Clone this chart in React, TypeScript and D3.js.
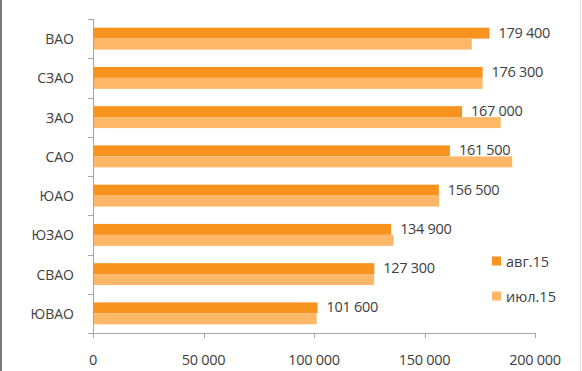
import React, { useEffect, useRef } from 'react';
import * as d3 from 'd3';

const CATEGORIES = ['ВАО', 'СЗАО', 'ЗАО', 'САО', 'ЮАО', 'ЮЗАО', 'СВАО', 'ЮВАО'];
const AUG_VALUES = [179400, 176300, 167000, 161500, 156500, 134900, 127300, 101600];
const JUL_VALUES = [171400, 176300, 184500, 189700, 156600, 136000, 127200, 101200];
const SERIES_NAMES = ['авг.15', 'июл.15'];
const X_TICKS = [0, 50000, 100000, 150000, 200000];

const COLORS = ['#F7931E', '#FCB868'];
const FONT = '"Open Sans", sans-serif';

const fmt = (v: number) => d3.format(',')(v).replace(/,/g, ' ');

const App: React.FC = () => {
  const svgRef = useRef<SVGSVGElement>(null);

  useEffect(() => {
    if (!svgRef.current) return;
    const svg = d3.select(svgRef.current);
    svg.selectAll('*').remove();

    const width = 582;
    const height = 371;

    svg.append('rect').attr('width', width).attr('height', height).attr('fill', '#fff');

    // chart frame edges
    svg.append('line')
      .attr('x1', 1).attr('x2', 1).attr('y1', 0).attr('y2', height)
      .attr('stroke', '#7a7a7a').attr('stroke-width', 2);
    svg.append('line')
      .attr('x1', 580.5).attr('x2', 580.5).attr('y1', 0).attr('y2', height)
      .attr('stroke', '#e2e2e2').attr('stroke-width', 1);

    const left = 93;
    const right = 535;
    const top = 19;
    const bottom = 333;

    const x = d3.scaleLinear().domain([0, 200000]).range([left, right]);
    const y = d3.scaleBand().domain(CATEGORIES).range([top, bottom]).padding(0);
    const sub = d3.scaleBand()
      .domain(SERIES_NAMES)
      .range([0, y.bandwidth()])
      .paddingInner(0)
      .paddingOuter(0.79);

    const rows = CATEGORIES.map((c, i) => ({ cat: c, vals: [AUG_VALUES[i], JUL_VALUES[i]] }));

    // bars
    const g = svg.append('g');
    rows.forEach(r => {
      SERIES_NAMES.forEach((s, si) => {
        g.append('rect')
          .attr('x', x(0))
          .attr('y', y(r.cat)! + sub(s)!)
          .attr('width', x(r.vals[si]) - x(0))
          .attr('height', sub.bandwidth())
          .attr('fill', COLORS[si]);
      });
    });

    // y axis
    const axisColor = '#a6a6a6';
    svg.append('line')
      .attr('x1', left + 0.5).attr('x2', left + 0.5).attr('y1', top).attr('y2', bottom + 0.5)
      .attr('stroke', axisColor);
    const yTicks = CATEGORIES.map(c => y(c)!).concat([bottom]);
    svg.selectAll('.ytick')
      .data(yTicks)
      .enter()
      .append('line')
      .attr('x1', left - 5).attr('x2', left)
      .attr('y1', d => Math.round(d) + 0.5).attr('y2', d => Math.round(d) + 0.5)
      .attr('stroke', axisColor);
    svg.selectAll('.ylab')
      .data(CATEGORIES)
      .enter()
      .append('text')
      .attr('x', 74)
      .attr('y', d => y(d)! + y.bandwidth() / 2)
      .attr('text-anchor', 'end')
      .attr('dominant-baseline', 'central')
      .attr('font-family', FONT)
      .attr('font-size', 14)
      .attr('fill', '#404040')
      .text(d => d);

    // x axis
    svg.append('line')
      .attr('x1', left).attr('x2', right).attr('y1', bottom + 0.5).attr('y2', bottom + 0.5)
      .attr('stroke', axisColor);
    svg.selectAll('.xtick')
      .data(X_TICKS)
      .enter()
      .append('line')
      .attr('x1', d => Math.round(x(d)) + 0.5).attr('x2', d => Math.round(x(d)) + 0.5)
      .attr('y1', bottom).attr('y2', bottom + 5)
      .attr('stroke', axisColor);
    svg.selectAll('.xlab')
      .data(X_TICKS)
      .enter()
      .append('text')
      .attr('x', d => x(d))
      .attr('y', 359)
      .attr('text-anchor', 'middle')
      .attr('dominant-baseline', 'central')
      .attr('font-family', FONT)
      .attr('font-size', 14.5)
      .attr('letter-spacing', -0.3)
      .attr('fill', '#404040')
      .text(d => fmt(d));

    // data labels (aug series)
    svg.selectAll('.dlab')
      .data(rows)
      .enter()
      .append('text')
      .attr('x', d => x(d.vals[0]) + 9)
      .attr('y', d => y(d.cat)! + sub(SERIES_NAMES[0])! + sub.bandwidth() / 2 - 1)
      .attr('dominant-baseline', 'central')
      .attr('font-family', FONT)
      .attr('font-size', 14.5)
      .attr('letter-spacing', -0.3)
      .attr('fill', '#404040')
      .text(d => fmt(d.vals[0]));

    // legend
    const legend = svg.append('g');
    SERIES_NAMES.forEach((s, i) => {
      const ly = 261 + i * 35;
      legend.append('rect')
        .attr('x', 492).attr('y', ly - 4.5).attr('width', 9).attr('height', 9)
        .attr('fill', COLORS[i]);
      legend.append('text')
        .attr('x', 506).attr('y', ly)
        .attr('dominant-baseline', 'central')
        .attr('font-family', FONT)
        .attr('font-size', 14.5)
        .attr('fill', '#404040')
        .text(s);
    });
  }, []);

  return (
    <div style={{ position: 'absolute', left: 0, top: 0 }}>
      <svg ref={svgRef} width={582} height={371} style={{ display: 'block' }}></svg>
    </div>
  );
};

export default App;
